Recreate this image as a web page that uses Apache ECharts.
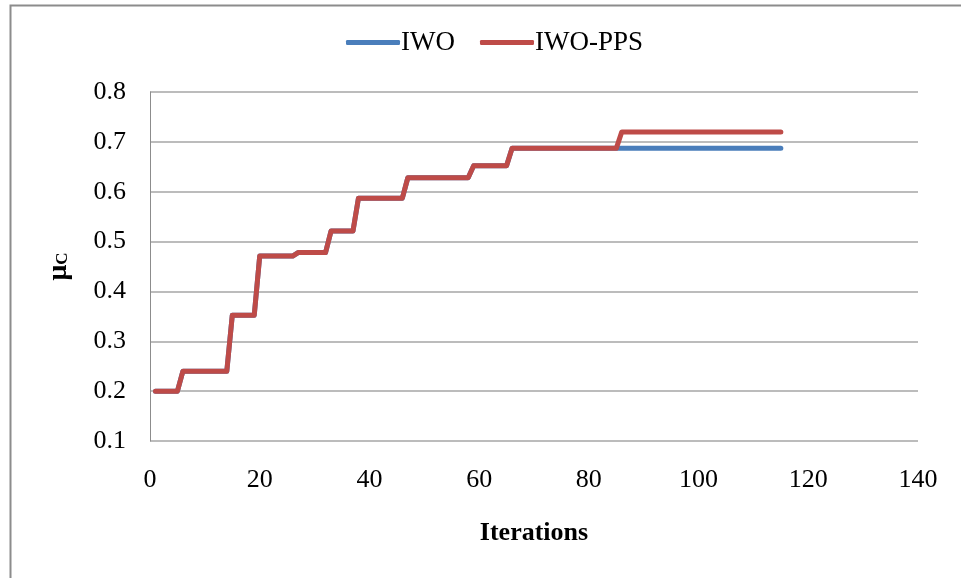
<!DOCTYPE html>
<html>
<head>
<meta charset="utf-8">
<script src="https://cdn.jsdelivr.net/npm/echarts@6/dist/echarts.min.js"></script>
<style>html,body{margin:0;padding:0;background:#fff;}#c{width:961px;height:578px;}</style>
</head>
<body>
<div id="c"></div>
<script>
// Iteration / value corner points
const iwoX  = [1, 5, 6, 14, 15, 19, 20, 26, 27, 32, 33, 37, 38, 46, 47, 58, 59, 65, 66, 115];
const iwoY  = [0.2, 0.2, 0.24, 0.24, 0.352, 0.352, 0.471, 0.471, 0.478, 0.478, 0.521, 0.521, 0.587, 0.587, 0.628, 0.628, 0.652, 0.652, 0.687, 0.687];
const ppsX  = [1, 5, 6, 14, 15, 19, 20, 26, 27, 32, 33, 37, 38, 46, 47, 58, 59, 65, 66, 85, 86, 115];
const ppsY  = [0.2, 0.2, 0.24, 0.24, 0.352, 0.352, 0.471, 0.471, 0.478, 0.478, 0.521, 0.521, 0.587, 0.587, 0.628, 0.628, 0.652, 0.652, 0.687, 0.687, 0.72, 0.72];
const seriesNames = ['IWO', 'IWO-PPS'];
const xTicks = [0, 20, 40, 60, 80, 100, 120, 140];
const yTicks = ['0.1', '0.2', '0.3', '0.4', '0.5', '0.6', '0.7', '0.8'];

const FONT = "'Liberation Serif', 'Times New Roman', serif";
const pair = (xs, ys) => xs.map((x, i) => [x, ys[i]]);

const chart = echarts.init(document.getElementById('c'));
chart.setOption({
  animation: false,
  backgroundColor: '#fff',
  graphic: [{
    type: 'rect', left: 8, top: 3, z: -1,
    shape: { width: 1000, height: 1000 },
    style: { fill: 'none', stroke: '#8c8c8c', lineWidth: 2 }
  }],
  legend: {
    data: seriesNames,
    left: 341, top: 24,
    itemWidth: 54, itemHeight: 5, itemGap: 25,
    icon: 'roundRect',
    textStyle: { fontFamily: FONT, fontSize: 27, color: '#000', padding: [0, 0, 0, -4] }
  },
  grid: { left: 150, right: 43, top: 92, bottom: 137 },
  xAxis: {
    type: 'value', min: xTicks[0], max: xTicks[xTicks.length - 1], interval: 20,
    name: 'Iterations', nameLocation: 'middle', nameGap: 79,
    nameTextStyle: { fontFamily: FONT, fontSize: 26, fontWeight: 'bold', color: '#000' },
    axisLine: { show: false },
    axisTick: { show: false },
    splitLine: { show: false },
    axisLabel: { fontFamily: FONT, fontSize: 26, color: '#000', margin: 26 }
  },
  yAxis: {
    type: 'value', min: 0.1, max: 0.8, interval: 0.1,
    name: 'μ{s|C}', nameLocation: 'middle', nameRotate: 90, nameGap: 77,
    nameTextStyle: {
      fontFamily: FONT, fontSize: 28, fontWeight: 'bold', color: '#000',
      rich: { s: { fontFamily: FONT, fontSize: 17, fontWeight: 'bold', color: '#000', padding: [8, 0, 0, 0] } }
    },
    axisLine: { show: true, lineStyle: { color: '#8c8c8c', width: 1 } },
    axisTick: { show: false },
    splitLine: { show: true, lineStyle: { color: '#a6a6a6', width: 1.5 } },
    axisLabel: {
      fontFamily: FONT, fontSize: 26, color: '#000', margin: 24,
      formatter: (v) => yTicks[Math.round(v * 10) - 1]
    }
  },
  series: [
    {
      name: seriesNames[0], type: 'line', data: pair(iwoX, iwoY),
      showSymbol: false, symbol: 'none',
      lineStyle: { color: '#4a7ebb', width: 5, cap: 'round', join: 'round' },
      itemStyle: { color: '#4a7ebb' }, z: 2
    },
    {
      name: seriesNames[1], type: 'line', data: pair(ppsX, ppsY),
      showSymbol: false, symbol: 'none',
      lineStyle: { color: '#be4b48', width: 5, cap: 'round', join: 'round' },
      itemStyle: { color: '#be4b48' }, z: 3
    }
  ]
});
</script>
</body>
</html>
